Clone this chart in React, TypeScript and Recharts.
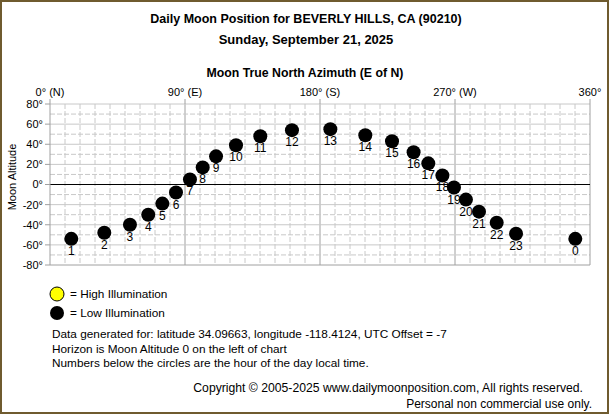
import React from 'react';
import {
    ScatterChart, Scatter, XAxis, YAxis, ReferenceLine,
} from 'recharts';

// hour of day (local time) for each moon position
const hours = [1, 2, 3, 4, 5, 6, 7, 8, 9, 10, 11, 12, 13, 14, 15, 16, 17, 18, 19, 20, 21, 22, 23, 0];
// true north azimuth, degrees E of N
const azimuth = [14.2, 36.2, 53.3, 65.5, 74.9, 84, 93.3, 101.8, 110.7, 124, 140.2, 161.3, 186.9, 210.2, 228, 242.4, 252.2, 261.6, 269.3, 277.3, 286, 297.8, 310.7, 350.2];
// altitude above horizon, degrees
const altitude = [-54, -48, -40, -30, -19, -8, 5, 17, 28, 39, 48, 54, 55, 49, 43, 32, 21, 9, -3, -15, -27, -38, -49, -54];

const xTicks = [0, 90, 180, 270, 360];
const xTickLabels = ['0° (N)', '90° (E)', '180° (S)', '270° (W)', '360°'];
const yTicks = [-80, -60, -40, -20, 0, 20, 40, 60, 80];
const xGrid = [10, 20, 30, 40, 50, 60, 70, 80, 90, 100, 110, 120, 130, 140, 150, 160, 170, 180, 190, 200, 210, 220, 230, 240, 250, 260, 270, 280, 290, 300, 310, 320, 330, 340, 350];
const yGrid = [-70, -60, -50, -40, -30, -20, -10, 10, 20, 30, 40, 50, 60, 70, 80];

const FONT = '"Liberation Sans", Arial, sans-serif';
const GRID = '#c8c8c8';
const AXIS = '#a0a0a0';

const points = hours.map((h, i) => ({ hour: h, az: azimuth[i], alt: altitude[i] }));

// black moon disc with the hour printed below it
const MoonDot = (props: any) => {
    const { cx, cy, payload } = props;
    return (
        <g>
            <circle cx={cx} cy={cy} r={7} fill="#000" />
            <text x={cx} y={cy + 16} textAnchor="middle" fontSize={12} fontFamily={FONT} fill="#000">
                {payload.hour}
            </text>
        </g>
    );
};

const App = () => {
    return (
        <div style={{ position: 'absolute', left: 0, top: 0, width: 610, height: 415, background: '#fff' }}>
            <ScatterChart width={610} height={415} margin={{ top: 84, right: 20, bottom: 150, left: 10 }}>
                {xGrid.map((v) => (
                    <ReferenceLine key={`gx-${v}`} x={v} stroke={v % 90 === 0 ? AXIS : GRID} strokeDasharray={v % 90 === 0 ? undefined : '5 2'} />
                ))}
                {yGrid.map((v) => (
                    <ReferenceLine key={`gy-${v}`} y={v} stroke={GRID} strokeDasharray={v % 20 === 0 ? undefined : '5 2'} />
                ))}
                <ReferenceLine x={360} stroke={AXIS} />
                <ReferenceLine y={-80} stroke={AXIS} />
                <ReferenceLine y={0} stroke="#000" />
                <XAxis
                    type="number"
                    dataKey="az"
                    orientation="top"
                    domain={[0, 360]}
                    ticks={xTicks}
                    tickFormatter={(v) => xTickLabels[xTicks.indexOf(v)]}
                    height={20}
                    tickSize={5}
                    tickMargin={3}
                    axisLine={false}
                    tickLine={{ stroke: AXIS }}
                    tick={{ fontSize: 11, fontFamily: FONT, fill: '#000' }}
                    interval={0}
                />
                <YAxis
                    type="number"
                    dataKey="alt"
                    domain={[-80, 80]}
                    ticks={yTicks}
                    tickFormatter={(v) => `${v}°`}
                    width={40}
                    tickSize={5}
                    tickMargin={2}
                    axisLine={{ stroke: AXIS }}
                    tickLine={{ stroke: AXIS }}
                    tick={{ fontSize: 11, fontFamily: FONT, fill: '#000' }}
                    interval={0}
                />
                <Scatter data={points} shape={MoonDot} isAnimationActive={false} />
            </ScatterChart>
            <svg width={610} height={415} style={{ position: 'absolute', left: 0, top: 0, pointerEvents: 'none' }}>
                <rect x={1} y={1} width={607} height={412} fill="none" stroke="#6f5b2f" strokeWidth={2} />
                <g fontFamily={FONT} fill="#000">
                    <text x={306} y={23} textAnchor="middle" fontSize={12.5} fontWeight="bold">Daily Moon Position for BEVERLY HILLS, CA (90210)</text>
                    <text x={306} y={44} textAnchor="middle" fontSize={13} fontWeight="bold">Sunday, September 21, 2025</text>
                    <text x={305} y={77} textAnchor="middle" fontSize={12.3} fontWeight="bold">Moon True North Azimuth (E of N)</text>
                    <text x={0} y={0} transform="translate(16,177) rotate(-90)" textAnchor="middle" fontSize={11}>Moon Altitude</text>
                    <circle cx={57} cy={294} r={7} fill="#ffff00" stroke="#000" />
                    <text x={70} y={298} fontSize={11.8}>= High Illumination</text>
                    <circle cx={57} cy={313} r={7} fill="#000" />
                    <text x={70} y={317} fontSize={11.8}>= Low Illumination</text>
                    <text x={52} y={338} fontSize={11.8}>Data generated for: latitude 34.09663, longitude -118.4124, UTC Offset = -7</text>
                    <text x={52} y={353} fontSize={11.8}>Horizon is Moon Altitude 0 on the left of chart</text>
                    <text x={52} y={367} fontSize={11.8}>Numbers below the circles are the hour of the day local time.</text>
                    <text x={583} y={392} textAnchor="end" fontSize={12.2}>Copyright © 2005-2025 www.dailymoonposition.com, All rights reserved.</text>
                    <text x={592} y={408} textAnchor="end" fontSize={12}>Personal non commercial use only.</text>
                </g>
            </svg>
        </div>
    );
};

export default App;
